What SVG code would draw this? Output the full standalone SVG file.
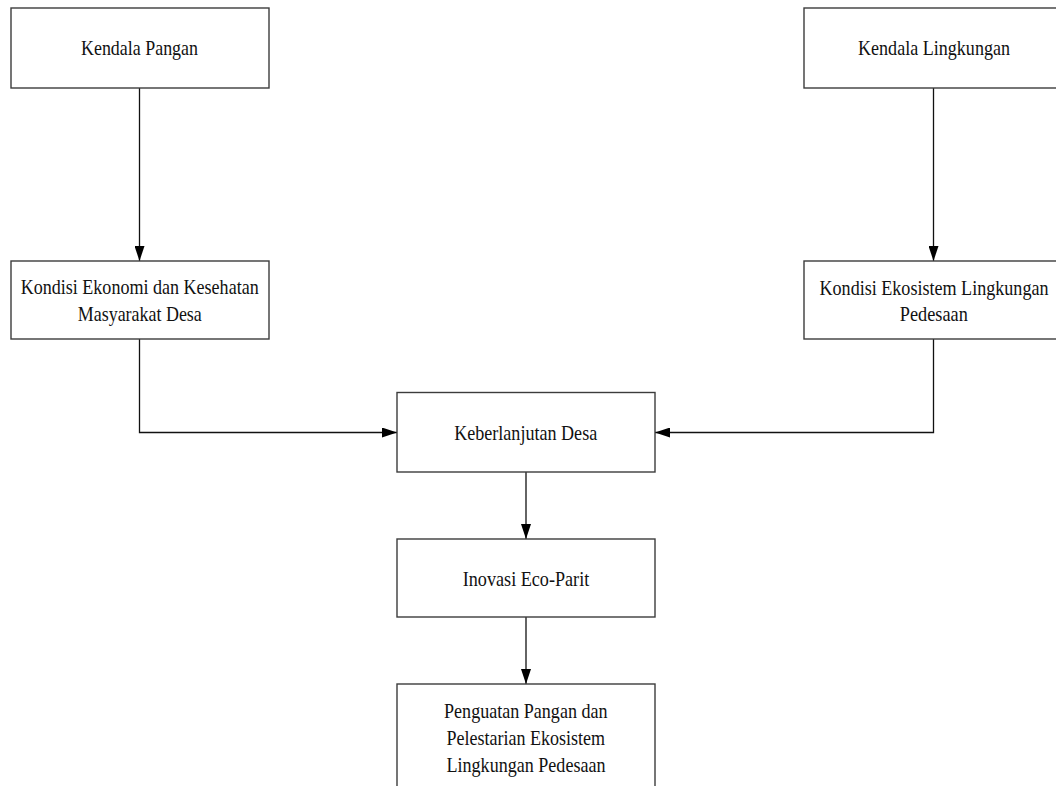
<svg xmlns="http://www.w3.org/2000/svg" width="1056" height="786" viewBox="0 0 1056 786">
<style>
.box{fill:#fff;stroke:#3c3c3c;stroke-width:1.4}
.t{font-family:"Liberation Serif","Times New Roman",serif;font-size:21.5px;fill:#111;text-anchor:middle}
.c{fill:none;stroke:#111;stroke-width:1.3}
</style>
<defs>
<marker id="ah" markerWidth="15" markerHeight="10" refX="15" refY="5" orient="auto" markerUnits="userSpaceOnUse">
<path d="M0,0 L15,5 L0,10 Z" fill="#000"/>
</marker>
</defs>
<rect width="1056" height="786" fill="#fff"/>
<g id="connectors">
<path class="c" d="M139.5,88 V261" marker-end="url(#ah)"/>
<path class="c" d="M933.5,88 V261" marker-end="url(#ah)"/>
<path class="c" d="M139.5,339 V432.5 H397" marker-end="url(#ah)"/>
<path class="c" d="M933.5,339 V432.5 H655" marker-end="url(#ah)"/>
<path class="c" d="M526,472 V539" marker-end="url(#ah)"/>
<path class="c" d="M526,617 V684" marker-end="url(#ah)"/>
</g>
<g id="n1">
<rect class="box" x="11" y="8" width="258" height="80"/>
<text class="t" x="139.5" y="55" textLength="117" lengthAdjust="spacingAndGlyphs">Kendala Pangan</text>
</g>
<g id="n2">
<rect class="box" x="804" y="8" width="260" height="80"/>
<text class="t" x="934" y="55" textLength="152" lengthAdjust="spacingAndGlyphs">Kendala Lingkungan</text>
</g>
<g id="n3">
<rect class="box" x="11" y="261" width="258" height="78"/>
<text class="t" x="139.7" y="294" textLength="238" lengthAdjust="spacingAndGlyphs">Kondisi Ekonomi dan Kesehatan</text>
<text class="t" x="139.8" y="321" textLength="124" lengthAdjust="spacingAndGlyphs">Masyarakat Desa</text>
</g>
<g id="n4">
<rect class="box" x="804" y="261" width="260" height="78"/>
<text class="t" x="934" y="294.5" textLength="229" lengthAdjust="spacingAndGlyphs">Kondisi Ekosistem Lingkungan</text>
<text class="t" x="933.8" y="321" textLength="68" lengthAdjust="spacingAndGlyphs">Pedesaan</text>
</g>
<g id="n5">
<rect class="box" x="397" y="392.5" width="258" height="79.5"/>
<text class="t" x="525.7" y="440" textLength="143" lengthAdjust="spacingAndGlyphs">Keberlanjutan Desa</text>
</g>
<g id="n6">
<rect class="box" x="397" y="539" width="258" height="78"/>
<text class="t" x="526" y="585.5" textLength="126.5" lengthAdjust="spacingAndGlyphs">Inovasi Eco-Parit</text>
</g>
<g id="n7">
<rect class="box" x="397" y="684" width="258" height="110"/>
<text class="t" x="525.8" y="718" textLength="163.5" lengthAdjust="spacingAndGlyphs">Penguatan Pangan dan</text>
<text class="t" x="525.7" y="745" textLength="158.5" lengthAdjust="spacingAndGlyphs">Pelestarian Ekosistem</text>
<text class="t" x="526" y="772" textLength="159" lengthAdjust="spacingAndGlyphs">Lingkungan Pedesaan</text>
</g>
</svg>
